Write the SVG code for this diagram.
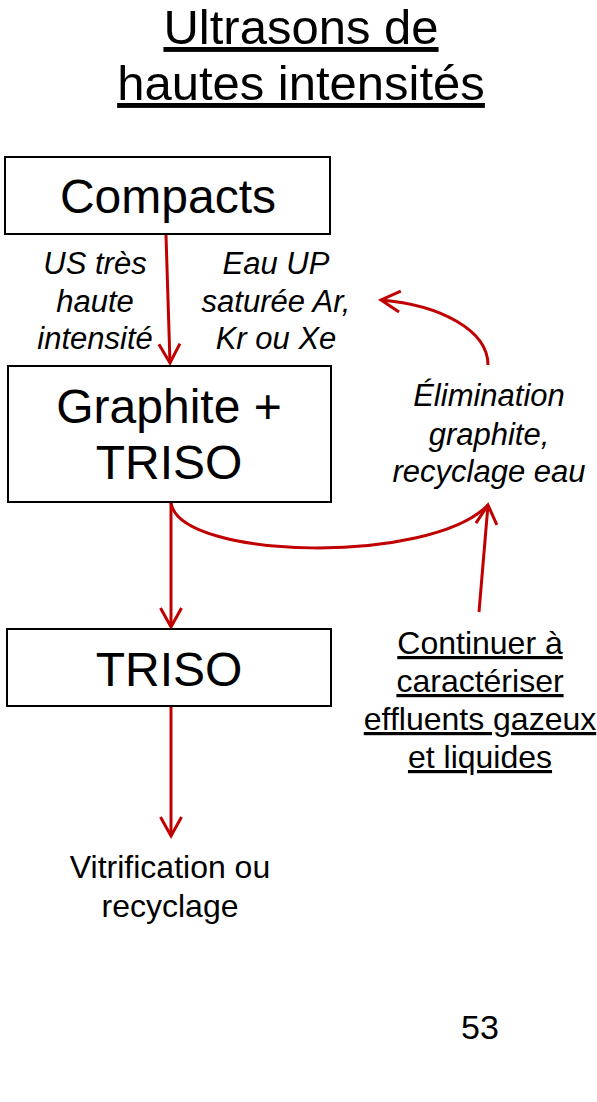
<svg xmlns="http://www.w3.org/2000/svg" width="597" height="1102" viewBox="0 0 597 1102">
<style>
  text { font-family: "Liberation Sans", Arial, sans-serif; fill: #000; }
  .title { font-size: 49px; text-anchor: middle; text-decoration: underline; }
  .box { fill: #fff; stroke: #000; stroke-width: 2; }
  .big { font-size: 48px; text-anchor: middle; }
  .it { font-size: 31px; font-style: italic; text-anchor: middle; }
  .txt { font-size: 32px; text-anchor: middle; }
  .ul { text-decoration: underline; }
  .conn { fill: none; stroke: #C00000; stroke-width: 3; }
</style>
<defs>
  <marker id="chev" viewBox="-22 -13 26 26" markerWidth="26" markerHeight="26" refX="0" refY="0" orient="auto" markerUnits="userSpaceOnUse">
    <path d="M-19,-10.5 L0,0 L-19,10.5" fill="none" stroke="#C00000" stroke-width="3"/>
  </marker>
</defs>
<rect width="597" height="1102" fill="#fff"/>

<g id="title">
  <text class="title" x="301" y="44">Ultrasons de</text>
  <text class="title" x="301" y="100">hautes intensités</text>
</g>

<g id="connectors">
  <path class="conn" d="M166,235 L170,363" marker-end="url(#chev)"/>
  <path class="conn" d="M171,503 L171,627" marker-end="url(#chev)"/>
  <path class="conn" d="M171,707 L171,836" marker-end="url(#chev)"/>
  <path class="conn" d="M171,503 C180,560 430,565 488,505"/>
  <path class="conn" d="M479,612 L488,505" marker-end="url(#chev)"/>
  <path class="conn" d="M488,365 C488,330 440,305 381,300" marker-end="url(#chev)"/>
</g>

<g id="compacts">
  <rect class="box" x="5" y="157" width="325" height="77"/>
  <text class="big" x="168" y="213">Compacts</text>
</g>

<g id="graphite-triso">
  <rect class="box" x="8" y="366" width="323" height="136"/>
  <text class="big" x="169" y="423">Graphite +</text>
  <text class="big" x="169" y="479">TRISO</text>
</g>

<g id="triso">
  <rect class="box" x="7" y="629" width="324" height="77"/>
  <text class="big" x="169" y="686">TRISO</text>
</g>

<g id="label-us">
  <text class="it" x="95" y="274">US très</text>
  <text class="it" x="95" y="312">haute</text>
  <text class="it" x="95" y="349">intensité</text>
</g>

<g id="label-eau">
  <text class="it" x="276" y="274">Eau UP</text>
  <text class="it" x="276" y="312">saturée Ar,</text>
  <text class="it" x="276" y="349">Kr ou Xe</text>
</g>

<g id="elimination">
  <text class="it" x="489" y="406">Élimination</text>
  <text class="it" x="489" y="445">graphite,</text>
  <text class="it" x="489" y="482">recyclage eau</text>
</g>

<g id="continuer">
  <text class="txt ul" x="480" y="654">Continuer à</text>
  <text class="txt ul" x="480" y="692">caractériser</text>
  <text class="txt ul" x="480" y="730">effluents gazeux</text>
  <text class="txt ul" x="480" y="768">et liquides</text>
</g>

<g id="vitrification">
  <text class="txt" x="170" y="878">Vitrification ou</text>
  <text class="txt" x="170" y="917">recyclage</text>
</g>

<g id="page-number">
  <text class="txt" x="480" y="1039" style="font-size:34px">53</text>
</g>
</svg>
